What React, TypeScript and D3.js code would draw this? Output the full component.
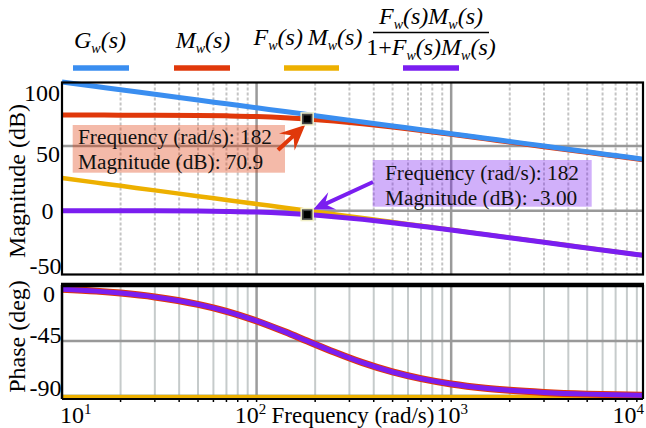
import React from 'react';
import * as d3 from 'd3';

// ---- data ----
const freqs = [10, 15, 20, 30, 50, 70, 100, 140, 182, 250, 350, 500, 700, 1000, 1500, 2000, 3000, 5000, 7000, 9700];
const magG = [99.5, 96.0, 93.5, 90.0, 85.5, 82.6, 79.5, 76.6, 74.3, 71.5, 68.6, 65.5, 62.6, 59.5, 56.0, 53.5, 50.0, 45.5, 42.6, 39.8];
const magM = [73.9, 73.9, 73.8, 73.8, 73.6, 73.3, 72.8, 71.9, 70.9, 69.3, 67.2, 64.6, 61.9, 59.0, 55.5, 53.0, 49.5, 45.1, 42.2, 39.4];
const magFM = [25.2, 21.7, 19.2, 15.7, 11.2, 8.3, 5.2, 2.3, 0.0, -2.8, -5.7, -8.8, -11.7, -14.8, -18.3, -20.8, -24.3, -28.8, -31.7, -34.5];
const magCL = [0.0, 0.0, -0.1, -0.1, -0.3, -0.6, -1.1, -2.0, -3.0, -4.6, -6.7, -9.3, -12.0, -14.9, -18.4, -20.9, -24.4, -28.8, -31.7, -34.5];
const phaseG = [-90, -90, -90, -90, -90, -90, -90, -90, -90, -90, -90, -90, -90, -90, -90, -90, -90, -90, -90, -90];
const phaseM = [-3.1, -4.7, -6.3, -9.4, -15.4, -21.0, -28.8, -37.6, -45.0, -53.9, -62.5, -70.0, -75.4, -79.7, -83.1, -84.8, -86.5, -87.9, -88.5, -88.9];
const phaseFM = [-90, -90, -90, -90, -90, -90, -90, -90, -90, -90, -90, -90, -90, -90, -90, -90, -90, -90, -90, -90];
const phaseCL = [-3.1, -4.7, -6.3, -9.4, -15.4, -21.0, -28.8, -37.6, -45.0, -53.9, -62.5, -70.0, -75.4, -79.7, -83.1, -84.8, -86.5, -87.9, -88.5, -88.9];

const magTicks = [-50, 0, 50, 100];
const magTickLabels = ['-50', '0', '50', '100'];
const phaseTicks = [-90, -45, 0];
const phaseTickLabels = ['-90', '-45', '0'];
const decades = [10, 100, 1000, 10000];
const decadeExp = ['1', '2', '3', '4'];

const markerFreq = 182;
const markerRed = 70.9;
const markerPurple = -3.0;
const annoRed = ['Frequency (rad/s): 182', 'Magnitude (dB): 70.9'];
const annoPurple = ['Frequency (rad/s): 182', 'Magnitude (dB): -3.00'];

// ---- style ----
const C_BLUE = '#3A8EF0';
const C_RED = '#E0380A';
const C_YEL = '#EDB000';
const C_PUR = '#7A1EF0';
const FONT = 'Liberation Serif';

const W = 646, H = 428;
const L = 62, R = 643;
const MAG_TOP = 82.5, MAG_BOT = 274.5;
const PH_TOP = 285, PH_BOT = 399;

const x = d3.scaleLog().domain([10, 9680]).range([L, R]);
const yMag = d3.scaleLinear().domain([-50, 100]).range([275.4, 81.3]);
const yPh = d3.scaleLinear().domain([-92, 0]).range([399.2, 285.3]);

const gridTicks = x.ticks().filter((t) => t > 10 && t < 9680);
const isMajor = (t: number) => Math.abs(Math.log10(t) - Math.round(Math.log10(t))) < 1e-9;

function linePath(vals: number[], y: d3.ScaleLinear<number, number>) {
  const g = d3.line<number>().x((_, i) => x(freqs[i])).y((v) => y(v)).curve(d3.curveMonotoneX);
  return g(vals) || '';
}

function arrowPath(x1: number, y1: number, x2: number, y2: number, hl: number, hw: number, sw: number) {
  const dx = x2 - x1, dy = y2 - y1;
  const len = Math.hypot(dx, dy);
  const ux = dx / len, uy = dy / len;
  const px = -uy, py = ux;
  const bx = x2 - ux * hl, by = y2 - uy * hl;
  const nx = x2 - ux * hl * 0.7, ny = y2 - uy * hl * 0.7;
  const pts = [
    [x1 + px * sw / 2, y1 + py * sw / 2],
    [nx + px * sw / 2, ny + py * sw / 2],
    [bx + px * hw, by + py * hw],
    [x2, y2],
    [bx - px * hw, by - py * hw],
    [nx - px * sw / 2, ny - py * sw / 2],
    [x1 - px * sw / 2, y1 - py * sw / 2],
  ];
  return 'M' + pts.map((p) => p[0].toFixed(1) + ',' + p[1].toFixed(1)).join('L') + 'Z';
}

type Part = { t: string; sub?: string; upright?: boolean };

function Formula({ parts, x: fx, y: fy }: { parts: Part[]; x: number; y: number }) {
  const out: React.ReactNode[] = [];
  let lowered = false;
  parts.forEach((p, i) => {
    out.push(
      <tspan key={'m' + i} dy={lowered ? -5 : 0} fontStyle={p.upright ? 'normal' : 'italic'}>
        {p.t}
      </tspan>
    );
    lowered = false;
    if (p.sub) {
      out.push(
        <tspan key={'s' + i} dy={5} fontSize={14} fontStyle="italic">
          {p.sub}
        </tspan>
      );
      lowered = true;
    }
  });
  return (
    <text x={fx} y={fy} textAnchor="middle" fontFamily={FONT} fontSize={24} fill="#000">
      {out}
    </text>
  );
}

function Marker({ cx, cy }: { cx: number; cy: number }) {
  return (
    <g>
      <rect x={cx - 6} y={cy - 6} width={12} height={12} fill="#444" stroke="#f2f0c8" strokeWidth={1.5} />
      <rect x={cx - 3.5} y={cy - 3.5} width={7} height={7} fill="#000" />
    </g>
  );
}

export default function App() {
  const magLabelDy: Record<string, number> = { '-50': -1, '0': 8, '50': 16, '100': 20 };
  const magLabelX: Record<string, number> = { '-50': 61.5, '0': 53.5, '50': 60, '100': 60 };
  const phLabelDy: Record<string, number> = { '-90': -1, '-45': 2, '0': 17 };
  const phLabelX: Record<string, number> = { '-90': 61.5, '-45': 61.5, '0': 55 };

  const mx = x(markerFreq);
  const myR = yMag(markerRed);
  const myP = yMag(markerPurple);

  return (
    <svg width={W} height={H} style={{ position: 'absolute', left: 0, top: 0, background: '#fff' }}>
      <rect x={0} y={0} width={W} height={H} fill="#fff" />

      {/* ---------- Legend ---------- */}
      <Formula x={100} y={48} parts={[{ t: 'G', sub: 'w' }, { t: '(s)' }]} />
      <Formula x={203} y={48} parts={[{ t: 'M', sub: 'w' }, { t: '(s)' }]} />
      <Formula x={308} y={45} parts={[{ t: 'F', sub: 'w' }, { t: '(s)\u2009' }, { t: 'M', sub: 'w' }, { t: '(s)' }]} />
      <Formula x={431} y={24} parts={[{ t: 'F', sub: 'w' }, { t: '(s)' }, { t: 'M', sub: 'w' }, { t: '(s)' }]} />
      <line x1={373} x2={489} y1={32.5} y2={32.5} stroke="#000" strokeWidth={1.5} />
      <Formula x={431} y={55} parts={[{ t: '1+', upright: true }, { t: 'F', sub: 'w' }, { t: '(s)' }, { t: 'M', sub: 'w' }, { t: '(s)' }]} />
      <line x1={73} x2={129} y1={68} y2={68} stroke={C_BLUE} strokeWidth={5.5} />
      <line x1={174} x2={230} y1={68} y2={68} stroke={C_RED} strokeWidth={5.5} />
      <line x1={284} x2={339} y1={68} y2={68} stroke={C_YEL} strokeWidth={5.5} />
      <line x1={403} x2={459} y1={68} y2={68} stroke={C_PUR} strokeWidth={5.5} />

      {/* ---------- Magnitude axes ---------- */}
      <g>
        {gridTicks.map((t) => (
          <line
            key={'mg' + t}
            x1={x(t)}
            x2={x(t)}
            y1={MAG_TOP}
            y2={MAG_BOT}
            stroke={isMajor(t) ? '#9a9a9a' : '#c4c4c4'}
            strokeWidth={isMajor(t) ? 2.5 : 2}
            strokeDasharray={isMajor(t) ? undefined : '3,2'}
          />
        ))}
        {magTicks
          .filter((v) => v > -50 && v < 100)
          .map((v) => (
            <line key={'mh' + v} x1={L} x2={R} y1={yMag(v)} y2={yMag(v)} stroke="#999" strokeWidth={2.5} />
          ))}
      </g>

      <rect x={72.7} y={125} width={212.3} height={47.7} fill={C_RED} fillOpacity={0.35} />
      <rect x={372.7} y={160} width={219} height={46.7} fill={C_PUR} fillOpacity={0.35} />

      <path d={linePath(magM, yMag)} fill="none" stroke={C_RED} strokeWidth={5} />
      <path d={linePath(magG, yMag)} fill="none" stroke={C_BLUE} strokeWidth={5} />
      <path d={linePath(magFM, yMag)} fill="none" stroke={C_YEL} strokeWidth={4.5} />
      <path d={linePath(magCL, yMag)} fill="none" stroke={C_PUR} strokeWidth={5} />

      <rect x={L} y={MAG_TOP} width={R - L} height={MAG_BOT - MAG_TOP} fill="none" stroke="#000" strokeWidth={2.2} />

      {magTicks.map((v, i) => (
        <text
          key={'ml' + v}
          x={magLabelX[magTickLabels[i]]}
          y={yMag(v) + magLabelDy[magTickLabels[i]]}
          textAnchor="end"
          fontFamily={FONT}
          fontSize={24}
          fill="#000"
        >
          {magTickLabels[i]}
        </text>
      ))}
      <text transform="translate(25,181) rotate(-90)" textAnchor="middle" fontFamily={FONT} fontSize={24} fill="#000">
        Magnitude (dB)
      </text>

      {annoRed.map((s, i) => (
        <text key={'ar' + i} x={78} y={144 + i * 25} fontFamily={FONT} fontSize={21.3} fill="#111">
          {s}
        </text>
      ))}
      {annoPurple.map((s, i) => (
        <text key={'ap' + i} x={385} y={180 + i * 24.5} fontFamily={FONT} fontSize={21.3} fill="#111">
          {s}
        </text>
      ))}
      <path d={arrowPath(278, 150, mx - 2, myR + 6, 25, 11.5, 4)} fill={C_RED} />
      <path d={arrowPath(373, 182, mx + 6, myP - 5, 21, 9.5, 4)} fill={C_PUR} />
      <Marker cx={mx} cy={myR} />
      <Marker cx={mx} cy={myP} />

      {/* ---------- Phase axes ---------- */}
      <g>
        {gridTicks.map((t) => (
          <line
            key={'pg' + t}
            x1={x(t)}
            x2={x(t)}
            y1={PH_TOP}
            y2={PH_BOT}
            stroke={isMajor(t) ? '#9c9c9c' : '#c6cbcb'}
            strokeWidth={isMajor(t) ? 2.5 : 2}
          />
        ))}
        <line x1={L} x2={R} y1={yPh(-45)} y2={yPh(-45)} stroke="#999" strokeWidth={2.5} />
        {gridTicks.map((t) => (
          <line key={'pt' + t} x1={x(t)} x2={x(t)} y1={PH_BOT} y2={PH_BOT + 3} stroke="#000" strokeWidth={1.5} />
        ))}
      </g>
      <path d={linePath(phaseG, yPh)} fill="none" stroke={C_BLUE} strokeWidth={4} />
      <path d={linePath(phaseFM, yPh)} fill="none" stroke={C_YEL} strokeWidth={4} />
      <path d={linePath(phaseM, yPh)} fill="none" stroke={C_RED} strokeWidth={7} />
      <path d={linePath(phaseCL, yPh)} fill="none" stroke={C_PUR} strokeWidth={5} />

      <line x1={L} x2={R} y1={PH_BOT} y2={PH_BOT} stroke="#000" strokeWidth={2.2} />
      <line x1={L} x2={L} y1={PH_TOP} y2={PH_BOT} stroke="#000" strokeWidth={2.5} />
      <line x1={R} x2={R} y1={PH_TOP} y2={PH_BOT} stroke="#000" strokeWidth={2.2} />
      <line x1={L - 1} x2={R + 1} y1={PH_TOP} y2={PH_TOP} stroke="#000" strokeWidth={4.5} />

      {phaseTicks.map((v, i) => (
        <text
          key={'pl' + v}
          x={phLabelX[phaseTickLabels[i]]}
          y={yPh(v) + phLabelDy[phaseTickLabels[i]]}
          textAnchor="end"
          fontFamily={FONT}
          fontSize={24}
          fill="#000"
        >
          {phaseTickLabels[i]}
        </text>
      ))}
      <text transform="translate(25,336.5) rotate(-90)" textAnchor="middle" fontFamily={FONT} fontSize={24} fill="#000">
        Phase (deg)
      </text>

      {decades.map((d, i) => {
        const first = i === 0;
        const last = i === decades.length - 1;
        const px = first ? 60 : last ? 644 : x(d) - (i === 1 ? 6 : -1);
        return (
          <text
            key={'xl' + d}
            x={px}
            y={423}
            textAnchor={first ? 'start' : last ? 'end' : 'middle'}
            fontFamily={FONT}
            fontSize={24}
            fill="#000"
          >
            10
            <tspan fontSize={15} dy={-9}>
              {decadeExp[i]}
            </tspan>
          </text>
        );
      })}
      <text x={353} y={423} textAnchor="middle" fontFamily={FONT} fontSize={23} fill="#000">
        Frequency (rad/s)
      </text>
    </svg>
  );
}
